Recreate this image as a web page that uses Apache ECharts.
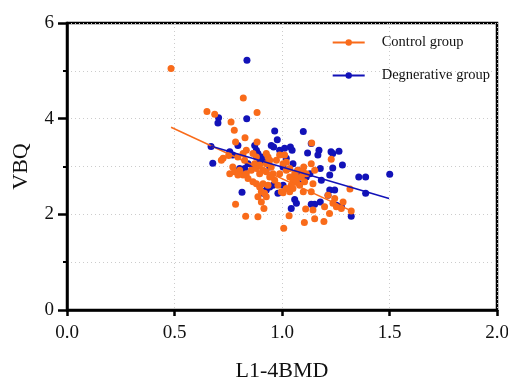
<!DOCTYPE html>
<html><head><meta charset="utf-8">
<script src="https://cdn.jsdelivr.net/npm/echarts@6/dist/echarts.min.js"></script>
<style>html,body{margin:0;padding:0;background:#fff}#c{width:508px;height:377px}</style>
</head><body><div id="c"></div>
<script>
var xTicks = ['0.0','0.5','1.0','1.5','2.0'];
var controlX = [0.484,0.651,0.687,0.820,0.884,0.763,0.778,0.828,0.884,1.138,0.784,0.752,0.726,0.718,0.757,0.784,0.831,0.888,0.916,0.904,1.008,1.033,1.104,1.110,1.152,1.195,1.144,1.229,1.316,1.322,1.284,1.276,1.221,1.198,1.245,1.214,1.237,1.253,1.144,1.136,1.152,1.101,1.105,1.099,1.136,1.012,1.005,0.989,1.020,1.036,1.051,1.043,1.067,1.020,0.997,1.005,0.981,0.966,0.958,0.950,0.935,0.927,0.912,0.896,0.881,0.865,0.873,0.857,0.834,0.842,0.819,0.803,0.795,0.819,0.834,0.826,0.771,0.779,0.795,0.865,0.881,0.896,0.904,0.919,0.927,0.888,0.912,0.935,0.943,0.927,0.974,0.989,1.020,1.036,1.059,1.074,1.067,1.051,1.036,1.082,1.090,1.113,1.098,0.881,0.896,0.927,0.943];
var controlY = [5.05,4.15,4.09,4.43,4.13,3.93,3.76,3.60,3.51,3.49,3.51,3.23,3.17,3.13,2.85,2.21,1.96,1.95,2.12,2.26,1.71,1.97,1.83,2.11,1.91,1.85,2.09,3.15,2.53,2.07,2.26,2.12,2.02,2.16,2.33,2.40,2.23,2.16,2.64,3.06,2.92,2.99,2.68,2.47,2.47,3.24,3.06,2.85,2.92,2.78,2.71,2.61,2.78,2.54,2.47,2.45,2.61,2.71,2.85,2.99,3.20,3.06,2.92,2.85,3.20,3.27,3.06,2.92,2.85,2.75,2.82,2.92,3.20,3.27,3.34,3.13,2.99,2.89,2.82,2.68,2.64,2.57,2.47,2.44,2.37,2.37,2.64,2.61,2.78,2.89,3.13,3.24,3.09,2.96,2.85,2.92,2.68,2.54,2.47,2.61,2.78,2.85,2.89,2.96,3.03,3.27,3.13];
var degenX = [0.837,0.705,0.702,0.836,0.670,0.678,0.814,0.966,1.099,0.978,0.950,0.961,0.873,0.881,0.795,1.136,1.039,1.047,1.172,1.167,1.119,1.228,1.236,1.265,1.281,1.236,1.222,1.357,1.389,1.501,1.389,1.183,1.222,1.245,1.322,1.276,1.253,1.214,1.178,1.152,1.136,1.043,1.067,1.059,1.082,1.113,1.090,1.051,1.020,1.005,0.981,1.005,0.958,0.943,0.919,0.904,0.888,0.896,0.865,0.842,0.826,0.803,0.771,0.757,0.912,0.927,0.943,0.989,1.012,1.074,1.178,1.130];
var degenY = [5.22,4.02,3.91,4.00,3.42,3.07,2.46,3.74,3.73,3.56,3.44,3.41,3.44,3.34,3.44,3.48,3.41,3.34,3.34,3.24,3.28,3.31,3.27,3.32,3.03,2.97,2.82,2.78,2.78,2.84,2.44,2.71,2.51,2.51,1.96,2.17,2.19,2.40,2.26,2.21,2.21,2.12,2.23,2.31,2.64,2.78,2.85,3.06,3.17,2.99,2.44,2.61,2.61,2.99,3.13,3.20,3.27,3.10,2.99,3.06,2.96,2.96,3.24,3.31,2.44,2.51,2.57,3.34,3.38,2.92,2.96,2.85];
var controlFitX = [0.484, 1.333];
var controlFitY = [3.82, 2.05];
var degenFitX = [0.668, 1.498];
var degenFitY = [3.43, 2.33];

function pairs(xs, ys){ return xs.map(function(x,i){ return [x, ys[i]]; }); }
var ORANGE = '#F96B1A', BLUE = '#1212B8';
var font = 'Liberation Serif';
var chart = echarts.init(document.getElementById('c'), null, {renderer:'canvas'});
chart.setOption({
  animation: false,
  backgroundColor: '#fff',
  grid: {left: 67, right: 11, top: 23, bottom: 67, containLabel: false, outerBoundsMode: 'none',
         show: true, borderColor: '#000', borderWidth: 2.5, backgroundColor: 'transparent'},
  legend: {
    right: 13, top: 30, orient: 'vertical', itemGap: 18, itemWidth: 32, itemHeight: 8,
    textStyle: {fontFamily: font, fontSize: 14.5, color: '#111', padding: [0,0,0,12]},
    data: ['Control group', 'Degnerative group']
  },
  xAxis: {
    type: 'value', min: 0, max: 2, interval: 0.5,
    name: 'L1-4BMD', nameLocation: 'middle', nameGap: 50,
    nameTextStyle: {fontFamily: font, fontSize: 22, color: '#111'},
    axisLine: {onZero: false, lineStyle: {color: '#000', width: 2.5}},
    axisTick: {show: true, length: 6, lineStyle: {color: '#000', width: 2.5}},
    axisLabel: {fontFamily: font, fontSize: 19, color: '#111', margin: 14, formatter: function(v){ return xTicks[Math.round(v/0.5)]; }},
    splitLine: {show: true, lineStyle: {color: '#ccc', type: [1,3], width: 1}}
  },
  yAxis: {
    type: 'value', min: 0, max: 6, interval: 2,
    name: 'VBQ', nameLocation: 'middle', nameGap: 35, nameRotate: 90,
    nameTextStyle: {fontFamily: font, fontSize: 22, color: '#111'},
    axisLine: {onZero: false, lineStyle: {color: '#000', width: 2.5}},
    axisTick: {show: true, length: 9, lineStyle: {color: '#000', width: 2.5}},
    minorTick: {show: true, splitNumber: 2, length: 4, lineStyle: {color: '#000', width: 2}},
    axisLabel: {fontFamily: font, fontSize: 19, color: '#111', margin: 13},
    splitLine: {show: true, lineStyle: {color: '#ccc', type: [1,3], width: 1}},
    minorSplitLine: {show: true, lineStyle: {color: '#ccc', type: [1,3], width: 1}}
  },
  series: [
    {name: 'Control group', type: 'line', data: pairs(controlFitX, controlFitY), showSymbol: false, symbol: 'circle', symbolSize: 6,
     lineStyle: {color: ORANGE, width: 1.5}, itemStyle: {color: ORANGE}, z: 3},
    {name: 'Degnerative group', type: 'line', data: pairs(degenFitX, degenFitY), showSymbol: false, symbol: 'circle', symbolSize: 6,
     lineStyle: {color: BLUE, width: 1.5}, itemStyle: {color: BLUE}, z: 3},
    {name: 'Degnerative group', type: 'scatter', data: pairs(degenX, degenY), symbolSize: 7, itemStyle: {color: BLUE, opacity: 1}, z: 2},
    {name: 'Control group', type: 'scatter', data: pairs(controlX, controlY), symbolSize: 7, itemStyle: {color: ORANGE, opacity: 1}, z: 2}
  ]
});
</script></body></html>
